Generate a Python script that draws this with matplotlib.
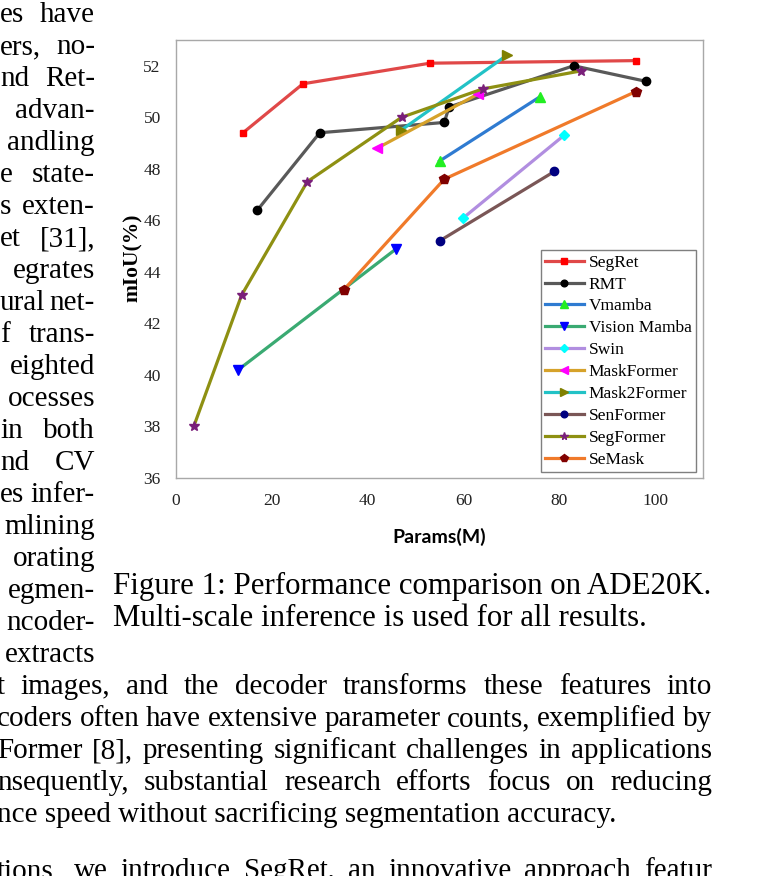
import matplotlib
matplotlib.use("Agg")
import matplotlib.pyplot as plt

W, H = 765, 876

# ---------------- datos ----------------
params_segret = [14, 26.5, 53, 96]
miou_segret = [49.4, 51.3, 52.1, 52.2]
params_rmt = [17, 30, 56, 57, 83, 98]
miou_rmt = [46.4, 49.4, 49.8, 50.4, 52.0, 51.4]
params_vmamba = [55, 76]
miou_vmamba = [48.3, 50.8]
params_vim = [13, 46]
miou_vim = [40.2, 44.9]
params_swin = [60, 81]
miou_swin = [46.1, 49.3]
params_maskformer = [42, 63]
miou_maskformer = [48.8, 50.9]
params_mask2former = [47, 69]
miou_mask2former = [49.5, 52.4]
params_senformer = [55, 79]
miou_senformer = [45.2, 47.9]
params_segformer = [3.7, 13.7, 27.4, 47.1, 64, 84.5]
miou_segformer = [38.0, 43.1, 47.5, 50.0, 51.1, 51.8]
params_semask = [35, 56, 96]
miou_semask = [43.3, 47.6, 51.0]

x_ticks = [0, 20, 40, 60, 80, 100]
y_ticks = [36, 38, 40, 42, 44, 46, 48, 50, 52]

# texto de la página alrededor de la figura
col_izq = ["es have", "ers, no-", "nd Ret-", "advan-", "andling", "e state-",
           "s exten-", "et [31],", "egrates", "ural net-", "f trans-", "eighted",
           "ocesses", "in both", "nd CV", "es infer-", "mlining", "orating",
           "egmen-", "ncoder-", "extracts"]
col_full = ["t images, and the decoder transforms these features into",
            "coders often have extensive parameter counts, exemplified by",
            "Former [8], presenting significant challenges in applications",
            "nsequently, substantial research efforts focus on reducing"]
ultima = "nce speed without sacrificing segmentation accuracy."
siguiente = "tions, we introduce SegRet, an innovative approach featur"
caption = ["Figure 1: Performance comparison on ADE20K.",
           "Multi-scale inference is used for all results."]

SERIF = "Liberation Serif"


def px(x, y):
    return x / W, 1 - y / H


def ancho(fig, r, s, size):
    t = fig.text(0, 0, s, fontsize=size, family=SERIF)
    w = t.get_window_extent(r).width
    t.remove()
    return w


def justificar(fig, r, s, x0, x1, y, size):
    palabras = s.split(" ")
    anchos = [ancho(fig, r, p, size) for p in palabras]
    if len(palabras) == 1 or sum(anchos) + 4 * (len(palabras) - 1) > x1 - x0:
        fig.text(*px(x1, y), s, fontsize=size, family=SERIF, ha="right", va="baseline")
        return
    gap = (x1 - x0 - sum(anchos)) / (len(palabras) - 1)
    x = x0
    for p, w in zip(palabras, anchos):
        fig.text(*px(x, y), p, fontsize=size, family=SERIF, va="baseline")
        x += w + gap


fig = plt.figure(figsize=(W / 100, H / 100), dpi=100)
r = fig.canvas.get_renderer()

# ---------------- gráfico ----------------
ax = fig.add_axes([176 / W, 1 - 478 / H, 527 / W, 438 / H])

series = [
    ("SegRet", params_segret, miou_segret, "#e04848", "s", "#ff0000", 5),
    ("RMT", params_rmt, miou_rmt, "#595959", "o", "#000000", 6),
    ("Vmamba", params_vmamba, miou_vmamba, "#2f7bd1", "^", "#22ee22", 7),
    ("Vision Mamba", params_vim, miou_vim, "#3aaa72", "v", "#0000ff", 7),
    ("Swin", params_swin, miou_swin, "#b18ee0", "D", "#00ffff", 5),
    ("MaskFormer", params_maskformer, miou_maskformer, "#d6a22a", "<", "#ff00ff", 7),
    ("Mask2Former", params_mask2former, miou_mask2former, "#22c2c6", ">", "#808000", 7),
    ("SenFormer", params_senformer, miou_senformer, "#7a5656", "o", "#000080", 6),
    ("SegFormer", params_segformer, miou_segformer, "#8e9012", "*", "#7a1f7a", 7),
    ("SeMask", params_semask, miou_semask, "#f07a2a", "p", "#800000", 7),
]

for nombre, xs, ys, c, m, mc, ms in series:
    ax.plot(xs, ys, color=c, lw=2.3, marker=m, ms=ms, mfc=mc, mec=mc,
            label=nombre)

ax.set_xlim(0, 110)
ax.set_ylim(36, 53)
ax.set_xticks(x_ticks)
ax.set_yticks(y_ticks)
ax.tick_params(length=0, pad=11, labelsize=12.5, labelcolor="#222222")
for lab in ax.get_xticklabels() + ax.get_yticklabels():
    lab.set_family(SERIF)
for s in ax.spines.values():
    s.set_color("#a8a8a8")
    s.set_linewidth(1)

leg = ax.legend(loc="lower right", bbox_to_anchor=(0.9867, 0.0137),
                borderaxespad=0, fancybox=False, framealpha=1,
                edgecolor="#7f7f7f", prop={"family": SERIF, "size": 12.5},
                handlelength=2.2, handletextpad=0.3, labelspacing=0.33,
                borderpad=0.25, markerscale=0.8)
leg.get_frame().set_linewidth(1)

fig.text(*px(133, 258), "mIoU(%)", rotation=90, ha="center", va="center",
         family=SERIF, fontweight="bold", fontsize=15.5)
fig.text(*px(439, 537), "Params(M)", ha="center", va="center",
         family="Lato", fontweight="bold", fontsize=14)

# ---------------- texto de la página ----------------
size = 21
paso = 32
base0 = 22

for i, linea in enumerate(col_izq):
    justificar(fig, r, linea, 0, 95, base0 + paso * i, size)

for j, linea in enumerate(col_full):
    justificar(fig, r, linea, -3, 712, base0 + paso * (21 + j), size)

fig.text(*px(-3, base0 + paso * 25), ultima, fontsize=size, family=SERIF,
         va="baseline")
justificar(fig, r, siguiente, -3, 712, base0 + paso * 26 + 24, size)

# tamaño del pie ajustado al ancho de la primera línea
cap_size = 20 * 600 / ancho(fig, r, caption[0], 20)
fig.text(*px(113, 594), caption[0], fontsize=cap_size, family=SERIF, va="baseline")
fig.text(*px(113, 626), caption[1], fontsize=cap_size, family=SERIF, va="baseline")

fig.savefig("out.png", dpi=100)
